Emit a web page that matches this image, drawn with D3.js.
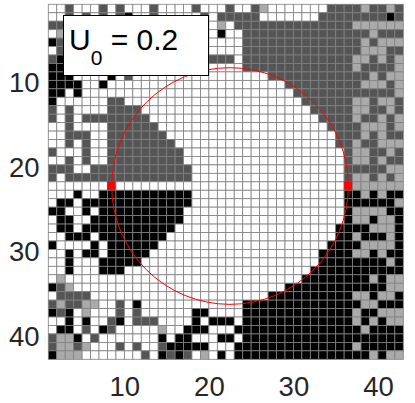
<!DOCTYPE html>
<html>
<head>
<meta charset="utf-8">
<script src="https://cdn.jsdelivr.net/npm/d3@7"></script>
<style>
html, body { margin: 0; padding: 0; background: #fff; }
svg { display: block; }
</style>
</head>
<body>
<div id="my_dataviz"></div>
<script>
// cell states, one string per row (top to bottom), blocks of ten columns
// 0 empty, 1 dark gray, 2 light gray, 3 black, 4 red
let cellRows = [
  "0010001010 0010000100 0100120000 0001111211 21",
  "0010101013 0010000010 1111100000 0011111111 31",
  "1100000000 0000000000 2011111111 1111112222 22",
  "0200000000 0000000000 3001111111 1111111121 11",
  "3100000000 0000000000 0001111111 1111111212 22",
  "0100000000 0000000000 0001111111 1111111222 11",
  "1300000000 0000000001 1101111111 1111112212 12",
  "3300000000 0000000000 0001111111 1111112111 12",
  "3330000301 0000000000 0000001111 1111111121 22",
  "3333003000 0000000000 0000000011 1111111222 12",
  "3303000000 0000000000 0000000001 1111111111 12",
  "3000000110 0000000000 0000000000 1111112212 21",
  "1010000111 1000000000 0000000000 0111112211 21",
  "1010111111 1100000000 0000000000 0011112112 12",
  "0010000111 1110000000 0000000000 0001111222 12",
  "0011100111 1111000000 0000000000 0000111212 11",
  "0010100111 1111100000 0000000000 0000112112 22",
  "1000100111 1111110000 0000000000 0000012211 21",
  "0010100111 1111110000 0000000000 0000012212 11",
  "1110011111 1111111000 0000000000 0000011111 22",
  "1011111111 1111111000 0000000000 0000012212 12",
  "0000000400 0000000000 0000000000 0000042222 22",
  "0003003333 3333333000 0000000000 0000033232 33",
  "0330333333 3333333000 0000000000 0000033333 32",
  "3300303333 3333330000 0000000000 0000032222 33",
  "0330033333 3333330000 0000000000 0000032232 23",
  "0330333333 3333300000 0000000000 0000333322 23",
  "0033303333 3333000000 0000000000 0000332333 23",
  "3000030333 3330000000 0000000000 0003333222 23",
  "0030330333 3300000000 0000000000 0033332232 33",
  "0030003333 3000000000 0000000000 0033333333 23",
  "0030003330 0000000000 0000000000 0333333333 33",
  "0200000000 0000000000 0000000000 3333333323 22",
  "3120000000 0000000000 0000000033 3333333333 22",
  "0111100000 0000000000 0000003333 3333332232 23",
  "1211220010 3000000000 0003333333 3333333223 33",
  "3130200010 1000000330 0003333333 3333332332 22",
  "0030300130 1110000303 3303333333 3333332323 22",
  "0330103100 0002003330 0033333333 3333333233 33",
  "1223010000 0003033000 3303333333 3333333333 33",
  "1221200010 1001333330 0033333333 3333332333 33",
  "3222000000 0103131020 3033333333 3333333323 22"
]
let stateColors = ["#ffffff", "#555555", "#aaaaaa", "#000000", "#ff0000"]
let xTicks = [10, 20, 30, 40]
let yTicks = [10, 20, 30, 40]
let circleCenter = [22.5, 22.5]
let circleRadius = 14
let legendLabel = "U"
let legendSub = "0"
let legendValue = " = 0.2"

function init(){
  let svg = d3.select("#my_dataviz")
    .append("svg")
      .attr("width", 415)
      .attr("height", 403)

  let x = d3.scaleLinear().domain([1, 43]).range([48.3, 403.3])
  let y = d3.scaleLinear().domain([1, 43]).range([4.3, 359.3])

  // flatten the rows into cells, index i covers i..i+1 on the axis
  let cells = []
  cellRows.forEach(function (row, r) {
    row.replace(/ /g, "").split("").forEach(function (s, c) {
      cells.push({col: c + 1, row: r + 1, state: +s})
    })
  })

  svg.append("g")
    .selectAll("rect")
    .data(cells)
    .enter()
    .append("rect")
      .attr("x", function (d) { return x(d.col) })
      .attr("y", function (d) { return y(d.row) })
      .attr("width", x(2) - x(1))
      .attr("height", y(2) - y(1))
      .style("fill", function (d) { return stateColors[d.state] })
      .style("stroke", function (d) { return d.state == 4 ? "#ff0000" : "#808080" })
      .style("stroke-width", 0.8)

  // circle
  svg.append("ellipse")
    .attr("cx", x(circleCenter[0]))
    .attr("cy", y(circleCenter[1]))
    .attr("rx", x(circleRadius) - x(0))
    .attr("ry", y(circleRadius) - y(0))
    .style("fill", "none")
    .style("stroke", "#ff0000")
    .style("stroke-width", 1)

  // axes, ticks are hidden and only the labels stay
  let xAxis = svg.append("g")
    .attr("transform", "translate(0,368.5)")
    .call(d3.axisBottom(x).tickValues(xTicks).tickSize(0).tickPadding(8))
  let yAxis = svg.append("g")
    .attr("transform", "translate(39.5,2.5)")
    .call(d3.axisLeft(y).tickValues(yTicks).tickSize(0).tickPadding(0))
  for (let a of [xAxis, yAxis]) {
    a.select(".domain").remove()
    a.selectAll("text")
      .style("font-family", "'Liberation Sans', sans-serif")
      .style("font-size", "27.5px")
      .style("fill", "#262626")
  }

  // legend box
  svg.append("rect")
    .attr("x", 63.5)
    .attr("y", 15.5)
    .attr("width", 145)
    .attr("height", 60)
    .style("fill", "#ffffff")
    .style("stroke", "#000000")
    .style("stroke-width", 1)

  let label = svg.append("text")
    .attr("x", 69)
    .attr("y", 50)
    .style("font-family", "'Liberation Sans', sans-serif")
    .style("font-size", "30px")
    .style("fill", "#000000")
  label.append("tspan").text(legendLabel)
  label.append("tspan")
    .attr("dy", 15)
    .style("font-size", "21px")
    .text(legendSub)
  label.append("tspan")
    .attr("dy", -15)
    .style("white-space", "pre")
    .text(legendValue)
}
init()
</script>
</body>
</html>
